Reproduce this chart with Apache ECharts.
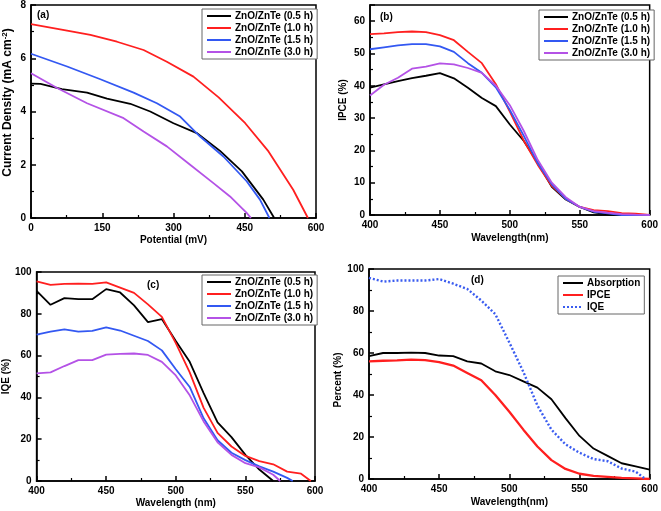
<!DOCTYPE html>
<html><head><meta charset="utf-8">
<script src="https://cdn.jsdelivr.net/npm/echarts@6/dist/echarts.min.js"></script>
<style>html,body{margin:0;padding:0;background:#fff}#c{width:661px;height:511px}</style>
</head><body><div id="c"></div><script>
// ---------- data ----------
const namesZ = ['ZnO/ZnTe (0.5 h)', 'ZnO/ZnTe (1.0 h)', 'ZnO/ZnTe (1.5 h)', 'ZnO/ZnTe (3.0 h)'];
const namesD = ['Absorption', 'IPCE', 'IQE'];

// (a) J-V curves
const potA05 = [0, 20, 65, 118, 160, 209, 251, 300, 349, 398, 444, 489, 512];
const curA05 = [5.05, 5.04, 4.84, 4.71, 4.48, 4.29, 4.0, 3.56, 3.19, 2.52, 1.75, 0.69, 0];
const potA10 = [0, 76, 125, 181, 237, 286, 342, 395, 451, 500, 552, 583];
const curA10 = [7.28, 7.04, 6.88, 6.62, 6.31, 5.87, 5.31, 4.53, 3.56, 2.5, 1.06, 0];
const potA15 = [0, 76, 146, 216, 265, 314, 356, 405, 454, 482, 502];
const curA15 = [6.17, 5.69, 5.21, 4.71, 4.31, 3.81, 3.06, 2.31, 1.38, 0.69, 0];
const potA30 = [0, 55, 118, 195, 237, 286, 335, 384, 419, 454, 463];
const curA30 = [5.44, 4.88, 4.31, 3.75, 3.25, 2.69, 2.0, 1.31, 0.81, 0.19, 0];

// (b) IPCE
const wl = [400, 410, 420, 430, 440, 450, 460, 470, 480, 490, 500, 510, 520, 530, 540, 550, 560, 570, 580, 590, 600];
const ipceB05 = [39.4, 40.4, 41.4, 42.4, 43.1, 43.9, 42.3, 39.4, 36.2, 33.7, 28, 22.9, 16.1, 8.7, 4.8, 2.5, 0.8, 0.2, 0, 0, 0];
const ipceB10 = [56, 56.2, 56.6, 56.8, 56.6, 55.7, 54.1, 50.5, 47, 40.5, 32, 23, 15.5, 9, 5, 2.5, 1.5, 1.2, 0.6, 0.4, 0];
const ipceB15 = [51.3, 51.9, 52.5, 52.9, 52.9, 52.2, 50.5, 47, 44, 39.5, 32.5, 24.5, 16, 9.5, 5, 2.5, 1, 0.5, 0, 0, 0];
const ipceB30 = [37, 40.3, 42.5, 45.3, 45.9, 46.9, 46.6, 45.5, 44, 40, 34, 26, 17, 10, 5.5, 2.5, 1.2, 0.7, 0.3, 0.1, 0];

// (c) IQE
const wlC05 = [400, 410, 420, 430, 440, 450, 460, 470, 480, 490, 500, 510, 520, 530, 540, 550, 560, 570];
const iqeC05 = [91, 84.3, 87.5, 87, 87, 91.8, 90.2, 84, 76, 77.5, 67, 57, 42, 28, 21, 12.5, 5.5, 0];
const wlC10 = [400, 410, 420, 430, 440, 450, 460, 470, 480, 490, 500, 510, 520, 530, 540, 550, 560, 570, 580, 590, 597];
const iqeC10 = [95.5, 93.8, 94.3, 94.4, 94.3, 95, 92.5, 90, 84.5, 78.5, 66, 52, 35, 23, 16.5, 12, 9.5, 8, 4.5, 3.5, 0];
const wlC15 = [400, 410, 420, 430, 440, 450, 460, 470, 480, 490, 500, 510, 520, 530, 540, 550, 560, 570, 580, 584];
const iqeC15 = [70, 71.5, 72.5, 71.5, 71.8, 73.5, 72, 69.5, 67, 62.5, 53.5, 45, 30, 19.5, 13.5, 10, 7, 4.5, 1.5, 0];
const wlC30 = [400, 410, 420, 430, 440, 450, 460, 470, 480, 490, 500, 510, 520, 530, 540, 550, 560, 570, 575];
const iqeC30 = [51.5, 52, 55, 57.8, 57.8, 60.5, 60.8, 61, 60.3, 57, 50.5, 41, 28.5, 18.5, 12.5, 8.5, 6.5, 3, 0];

// (d) comparison
const absD = [58.5, 60, 60, 60.2, 60, 58.8, 58.5, 56, 55, 51.3, 49.5, 46.5, 43.5, 38, 29, 20.5, 14.5, 11, 7.5, 6, 4.5];
const ipceD = [56, 56.3, 56.5, 56.8, 56.6, 55.7, 54, 50.5, 47, 40, 32, 23.5, 15.5, 9, 4.8, 2.5, 1.5, 1, 0.5, 0.3, 0];
const wlD = [400, 410, 420, 430, 440, 450, 460, 470, 480, 490, 500, 510, 520, 530, 540, 550, 560, 570, 580, 590, 597];
const iqeD = [95.8, 94, 94.5, 94.5, 94.5, 95.2, 93, 90.5, 85, 78.5, 65, 51, 35, 23.5, 16.5, 12.5, 9.5, 8.5, 5, 3.5, 0];

// ---------- styling ----------
const FONT = 'Liberation Sans, Arial, sans-serif';
const COLORS = ['#000000', '#ff1f1f', '#3358f2', '#b452e6'];
const zip = (xs, ys) => xs.map((x, i) => [x, ys[i]]);

function xAx(gi, min, max, interval, name, gap) {
  return {
    type: 'value', gridIndex: gi, min, max, interval,
    name, nameLocation: 'middle', nameGap: gap,
    nameTextStyle: { fontFamily: FONT, fontWeight: 'bold', fontSize: 10, color: '#000' },
    axisLine: { lineStyle: { color: '#000', width: 1.5 } },
    axisTick: { inside: true, length: 5, lineStyle: { width: 1.5 } },
    minorTick: { show: true, splitNumber: 2, length: 3, lineStyle: { color: '#000', width: 1.2 } },
    axisLabel: { fontFamily: FONT, fontWeight: 'bold', fontSize: 10, color: '#000', margin: 5 },
    splitLine: { show: false }
  };
}
function yAx(gi, min, max, interval, name, gap, nameSize, namePad, extra) {
  return Object.assign({
    type: 'value', gridIndex: gi, min, max, interval,
    name, nameLocation: 'middle', nameGap: gap,
    nameTextStyle: { fontFamily: FONT, fontWeight: 'bold', fontSize: nameSize, color: '#000', padding: namePad,
      rich: { sup: { fontFamily: FONT, fontWeight: 'bold', fontSize: 8, color: '#000', verticalAlign: 'top', padding: [0, 0, 6, 0] } } },
    axisLine: { lineStyle: { color: '#000', width: 1.5 } },
    axisTick: { inside: true, length: 5, lineStyle: { width: 1.5 } },
    minorTick: { show: true, splitNumber: 2, length: 3, lineStyle: { color: '#000', width: 1.2 } },
    axisLabel: { fontFamily: FONT, fontWeight: 'bold', fontSize: 10, color: '#000', margin: 5 },
    splitLine: { show: false }
  }, extra || {});
}
function grid(left, top, width, height) {
  return { left, top, width, height, show: true, borderColor: '#000', borderWidth: 1.5, backgroundColor: 'transparent' };
}
function line(name, gi, data, color, extra) {
  return Object.assign({
    type: 'line', name, xAxisIndex: gi, yAxisIndex: gi, data,
    symbol: 'none', showSymbol: false, smooth: false, silent: true, animation: false,
    lineStyle: { color, width: 1.8 }, itemStyle: { color }
  }, extra || {});
}
function legend(left, top, data, itemWidth) {
  return {
    left, top, orient: 'vertical', data, itemWidth, itemHeight: 10, itemGap: 2,
    padding: [2, 4], borderColor: '#666', borderWidth: 1, backgroundColor: '#fff',
    selectedMode: false,
    itemStyle: { opacity: 0, borderWidth: 0 },
    textStyle: { fontFamily: FONT, fontWeight: 'bold', fontSize: 10, color: '#000', padding: [0, 0, 0, -1] }
  };
}
function tag(text, x, y) {
  return { type: 'text', left: x, top: y, style: { text, fontFamily: FONT, fontWeight: 'bold', fontSize: 10, fill: '#000' } };
}

const option = {
  animation: false,
  backgroundColor: '#fff',
  grid: [grid(31, 5, 285, 213), grid(370, 5, 281, 210), grid(34, 272, 281, 209), grid(369, 269, 282, 210)],
  xAxis: [
    xAx(0, 0, 600, 150, 'Potential (mV)', 17),
    xAx(1, 400, 600, 50, 'Wavelength(nm)', 18),
    xAx(2, 400, 600, 50, 'Wavelength (nm)', 17),
    xAx(3, 400, 600, 50, 'Wavelength(nm)', 18)
  ],
  yAxis: [
    yAx(0, 0, 8, 2, 'Current Density (mA cm{sup|-2})', 16, 12, [0, 0, 0, 18]),
    yAx(1, 0, 65, 10, 'IPCE (%)', 22, 10, [0, 0, 0, 20], { axisLabel: { fontFamily: FONT, fontWeight: 'bold', fontSize: 10, color: '#000', margin: 5, showMaxLabel: false } }),
    yAx(2, 0, 100, 20, 'IQE (%)', 22, 10, [0, 0, 0, 0]),
    yAx(3, 0, 100, 20, 'Percent (%)', 21, 10, [0, 12, 0, 0])
  ],
  legend: [
    legend(202, 9, namesZ, 24),
    legend(539, 10, namesZ, 24),
    legend(202, 275, namesZ, 24),
    legend(558, 276, namesD, 20)
  ],
  graphic: [tag('(a)', 37, 10), tag('(b)', 380, 12), tag('(c)', 147, 280), tag('(d)', 471, 275)],
  series: [
    line(namesZ[0], 0, zip(potA05, curA05), COLORS[0]),
    line(namesZ[1], 0, zip(potA10, curA10), COLORS[1]),
    line(namesZ[2], 0, zip(potA15, curA15), COLORS[2]),
    line(namesZ[3], 0, zip(potA30, curA30), COLORS[3]),

    line(namesZ[0], 1, zip(wl, ipceB05), COLORS[0]),
    line(namesZ[1], 1, zip(wl, ipceB10), COLORS[1]),
    line(namesZ[2], 1, zip(wl, ipceB15), COLORS[2]),
    line(namesZ[3], 1, zip(wl, ipceB30), COLORS[3]),

    line(namesZ[0], 2, zip(wlC05, iqeC05), COLORS[0]),
    line(namesZ[1], 2, zip(wlC10, iqeC10), COLORS[1]),
    line(namesZ[2], 2, zip(wlC15, iqeC15), COLORS[2]),
    line(namesZ[3], 2, zip(wlC30, iqeC30), COLORS[3]),

    line(namesD[0], 3, zip(wl, absD), '#000000'),
    line(namesD[1], 3, zip(wl, ipceD), '#ff1f1f', { lineStyle: { color: '#ff1f1f', width: 2.3 } }),
    line(namesD[2], 3, zip(wlD, iqeD), '#3a5cf0', { lineStyle: { color: '#3a5cf0', width: 2.4, type: [2, 2] } })
  ]
};
const chart = echarts.init(document.getElementById('c'), null, { renderer: 'canvas' });
chart.setOption(option);
</script></body></html>
